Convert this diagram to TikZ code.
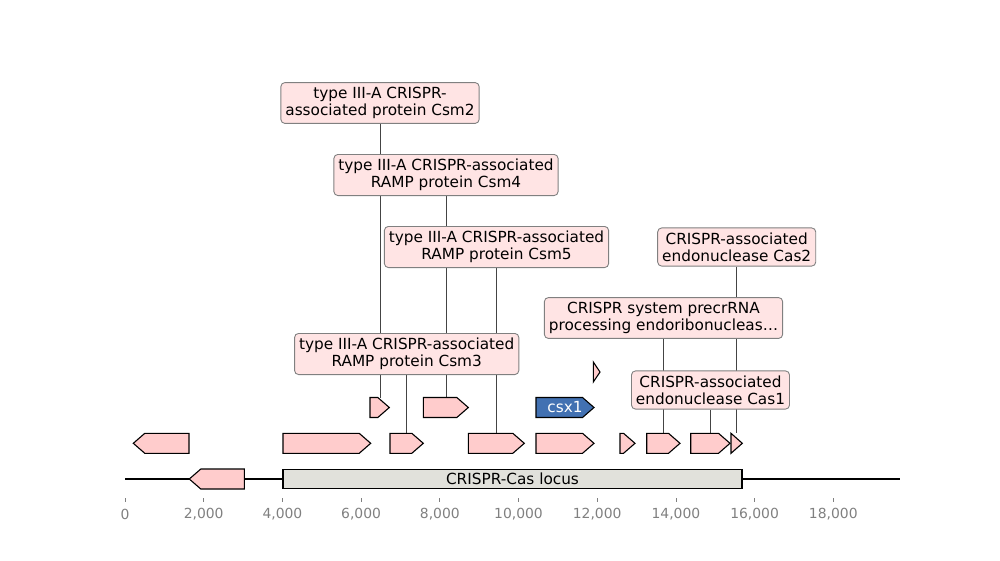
\documentclass[tikz,border=0pt]{standalone}
\usepackage{fontspec}
\setmainfont{DejaVu Sans}
\usetikzlibrary{backgrounds}
\definecolor{featfill}{RGB}{255,204,204}
\definecolor{labfill}{RGB}{255,228,228}
\definecolor{labdraw}{RGB}{128,128,128}
\definecolor{locfill}{RGB}{225,225,219}
\definecolor{csxblue}{RGB}{66,113,178}
\definecolor{tickgray}{RGB}{128,128,128}
\definecolor{conncol}{RGB}{68,68,68}
\tikzset{
  feat/.style={draw=black, fill=featfill, line width=1.1pt, line join=miter},
  lab/.style={draw=labdraw, fill=labfill, rounded corners=4pt, line width=0.9pt,
    align=center, inner xsep=4.5pt, inner ysep=4.5pt,
    font=\fontsize{15.3}{17.3}\selectfont},
  conn/.style={draw=conncol, line width=0.7pt},
  ticklab/.style={text=tickgray, font=\fontsize{13.9}{16.5}\selectfont, inner sep=0pt},
  tickmark/.style={draw=tickgray, line width=0.8pt}
}
\newcommand\rarrow[4][]{%
  \pgfmathsetmacro\hx{max(#2,#3-11.5)}%
  \draw[feat,#1] (#2,#4-10) -- (\hx,#4-10) -- (#3,#4) -- (\hx,#4+10) -- (#2,#4+10) -- cycle;}
\newcommand\larrow[4][]{%
  \pgfmathsetmacro\hx{min(#3,#2+11.5)}%
  \draw[feat,#1] (#2,#4) -- (\hx,#4-10) -- (#3,#4-10) -- (#3,#4+10) -- (\hx,#4+10) -- cycle;}
\begin{document}
\begin{tikzpicture}[x=1pt,y=-1pt]
\useasboundingbox (0,0) rectangle (1000,560);
% baseline
\draw[line width=1.8pt] (125,479) -- (900,479);
% locus box
\node[draw=black, fill=locfill, line width=1.1pt, minimum width=459pt, minimum height=19pt,
  inner sep=0pt, font=\fontsize{15.3}{17.3}\selectfont] (locus) at (512.5,479) {CRISPR-Cas locus};
% row 0
\larrow{189.3}{244.3}{479}
% row 1
\larrow{133.3}{189}{443.3}
\rarrow{283}{370.7}{443.3}
\rarrow{390}{423.3}{443.3}
\rarrow{468.3}{524.3}{443.3}
\rarrow{536}{594}{443.3}
\rarrow{620}{635}{443.3}
\rarrow{646.7}{680}{443.3}
\rarrow{690.7}{730}{443.3}
\rarrow{731}{742.3}{443.3}
% row 2
\rarrow{370}{389.3}{407.5}
\rarrow{423.3}{468.3}{407.5}
\rarrow[fill=csxblue]{536}{594}{407.5}
\node[text=white, font=\fontsize{15.3}{17.3}\selectfont, inner sep=0pt] (csx) at (565,407.5) {csx1};
% row 3
\rarrow{593.3}{600}{372}
% feature anchor coordinates
\coordinate (fcsm2) at (380,397.5);
\coordinate (fcsm4) at (446,397.5);
\coordinate (fcsm5) at (496.5,433.3);
\coordinate (fcas2) at (736.7,433.3);
\coordinate (fcas6) at (663.5,433.3);
\coordinate (fcsm3) at (406.7,433.3);
\coordinate (fcas1) at (710.5,433.3);
% labels
\node[lab] (csm2) at (380,103) {type III-A CRISPR-\\associated protein Csm2};
\node[lab] (csm4) at (446,175) {type III-A CRISPR-associated\\RAMP protein Csm4};
\node[lab] (csm5) at (496.5,247) {type III-A CRISPR-associated\\RAMP protein Csm5};
\node[lab] (cas2) at (736.7,247) {CRISPR-associated\\endonuclease Cas2};
\node[lab] (cas6) at (663.5,318) {CRISPR system precrRNA\\processing endoribonucleas…};
\node[lab] (csm3) at (406.7,354) {type III-A CRISPR-associated\\RAMP protein Csm3};
\node[lab] (cas1) at (710.5,390) {CRISPR-associated\\endonuclease Cas1};
% connectors
\begin{pgfonlayer}{background}
\draw[conn] (csm2.south) -- (fcsm2);
\draw[conn] (csm4.south) -- (fcsm4);
\draw[conn] (csm5.south) -- (fcsm5);
\draw[conn] (cas2.south) -- (fcas2);
\draw[conn] (cas6.south) -- (fcas6);
\draw[conn] (csm3.south) -- (fcsm3);
\draw[conn] (cas1.south) -- (fcas1);
\end{pgfonlayer}
% axis ticks
\foreach \v/\t in {0/0,2/{2,000},4/{4,000},6/{6,000},8/{8,000},10/{10,000},12/{12,000},14/{14,000},16/{16,000},18/{18,000}}{
  \draw[tickmark] (125+\v*39.35,498) -- (125+\v*39.35,502);
  \node[ticklab] at (125+\v*39.35,514) {\t};
}
\end{tikzpicture}
\end{document}
